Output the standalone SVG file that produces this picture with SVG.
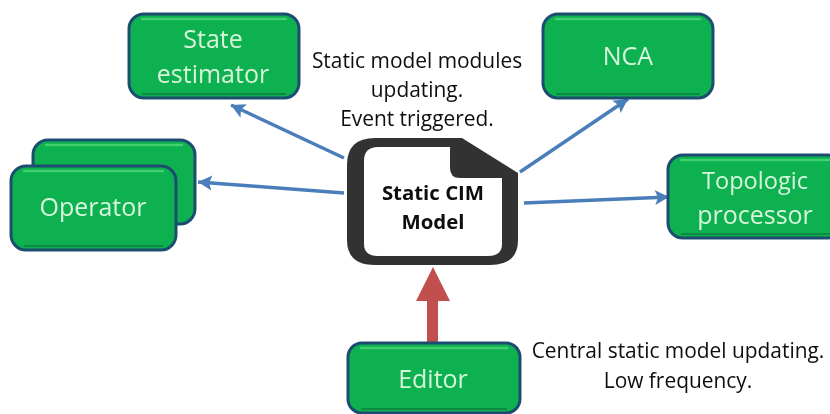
<svg xmlns="http://www.w3.org/2000/svg" width="830" height="414" viewBox="0 0 830 414">
<style>
.box{fill:#0ab14f;stroke:#1f4e70;stroke-width:3}
.hi{fill:none;stroke:#3fd070;stroke-width:2.5;stroke-linecap:round}
.lo{fill:none;stroke:#078a42;stroke-width:2}
.nt{font-family:"Open Sans","Noto Sans",sans-serif;font-size:25px;fill:#d8f5dc;text-anchor:middle}
.bt{font-family:"Open Sans","Noto Sans",sans-serif;font-size:20.9px;fill:#111;text-anchor:middle}
.ct{font-family:"Open Sans","Noto Sans",sans-serif;font-size:20.4px;font-weight:700;fill:#111;text-anchor:middle}
.blue{fill:none;stroke:#4a7ebb;stroke-width:3.5}
</style>
<defs>
<marker id="ah" markerUnits="userSpaceOnUse" markerWidth="16" markerHeight="16" refX="14" refY="7.5" orient="auto"><path d="M0 0L14 7.5L0 15L3 7.5Z" fill="#4a7ebb"/></marker>
<filter id="soft" x="-2%" y="-2%" width="104%" height="104%"><feGaussianBlur stdDeviation="0.45"/></filter>
</defs>
<rect width="830" height="414" fill="#fff"/>
<g filter="url(#soft)">
<g id="connectors">
<path class="blue" d="M344 158L231 105" marker-end="url(#ah)"/>
<path class="blue" d="M344 193L198 182" marker-end="url(#ah)"/>
<path class="blue" d="M520 172L628 99" marker-end="url(#ah)"/>
<path class="blue" d="M524 203L669 197" marker-end="url(#ah)"/>
<path d="M427 346V301H416L433 267L450 301H438V346Z" fill="#c0504d"/>
</g>
<g id="state-estimator">
<rect class="box" x="129" y="14" width="170" height="84" rx="15"/>
<path class="hi" d="M142 19H286"/><path class="lo" d="M142 94H286"/>
<text class="nt" x="213" y="48">State</text>
<text class="nt" x="213" y="83">estimator</text>
</g>
<g id="operator-back">
<rect class="box" x="33" y="140" width="162" height="84" rx="15"/>
<path class="hi" d="M46 145H182"/>
</g>
<g id="operator">
<rect class="box" x="11" y="166" width="165" height="84" rx="15"/>
<path class="hi" d="M24 171H163"/><path class="lo" d="M24 246H163"/>
<text class="nt" x="93" y="216">Operator</text>
</g>
<g id="nca">
<rect class="box" x="543" y="14" width="170" height="84" rx="15"/>
<path class="hi" d="M556 19H700"/><path class="lo" d="M556 94H700"/>
<text class="nt" x="628" y="65">NCA</text>
</g>
<g id="topologic-processor">
<rect class="box" x="668" y="155" width="175" height="83" rx="15"/>
<path class="hi" d="M681 160H830"/><path class="lo" d="M681 234H830"/>
<text class="nt" x="755" y="189" style="font-size:23.6px">Topologic</text>
<text class="nt" x="755" y="224">processor</text>
</g>
<g id="static-cim-model">
<path d="M375 138H462L518 173V240Q518 265 490 265H375Q347 265 347 240V165Q347 138 375 138Z" fill="#333"/>
<path d="M378 147H450V168Q450 178 460 178H502V244Q502 256 488 256H378Q364 256 364 244V161Q364 147 378 147Z" fill="#fff"/>
<text class="ct" x="433" y="200">Static CIM</text>
<text class="ct" x="433" y="229">Model</text>
</g>
<g id="editor">
<rect class="box" x="348" y="343" width="172" height="70" rx="14"/>
<path class="hi" d="M361 348H507"/><path class="lo" d="M361 409H507"/>
<text class="nt" x="433" y="388">Editor</text>
</g>
<g id="labels">
<text class="bt" x="417" y="68">Static model modules</text>
<text class="bt" x="417" y="97">updating.</text>
<text class="bt" x="417" y="126">Event triggered.</text>
<text class="bt" x="678" y="358">Central static model updating.</text>
<text class="bt" x="678" y="388">Low frequency.</text>
</g>
</g>
</svg>
